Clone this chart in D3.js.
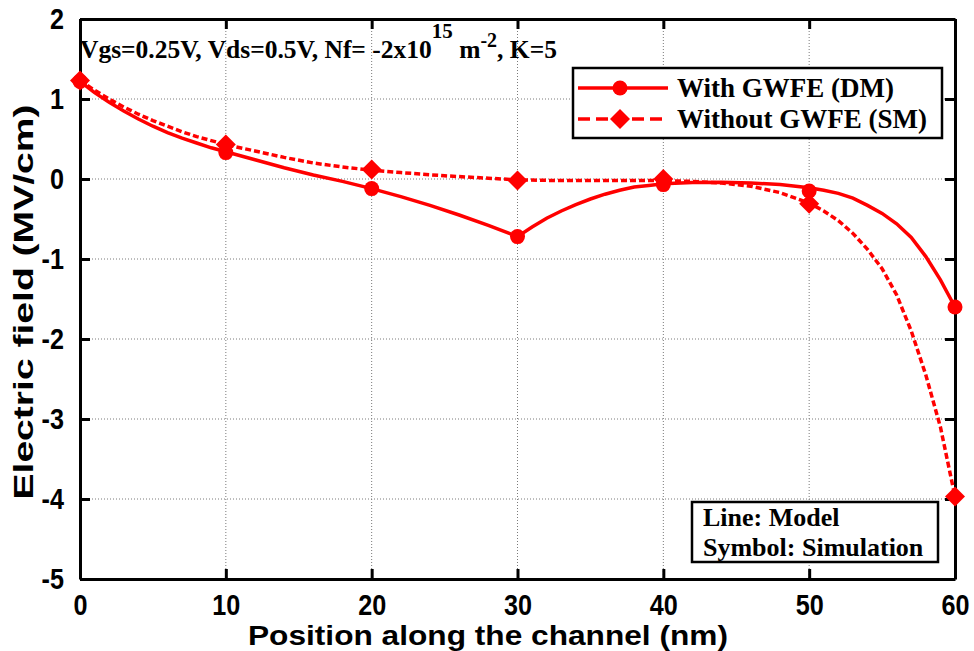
<!DOCTYPE html>
<html>
<head>
<meta charset="utf-8">
<script src="https://cdn.jsdelivr.net/npm/d3@7"></script>
<style>
  html, body { margin: 0; padding: 0; background: #fff; }
  svg { display: block; }
  .axis-title { font-family: "Liberation Sans", Arial, sans-serif; font-weight: bold; font-size: 27px; fill: #000; }
  .serif { font-family: "Liberation Serif", "Times New Roman", serif; font-weight: bold; fill: #000; }
</style>
</head>
<body>
<svg id="chart" width="974" height="651"></svg>
<script>
// Tick values
const xTicks = [0, 10, 20, 30, 40, 50, 60];
const yTicks = [2, 1, 0, -1, -2, -3, -4, -5];

// Simulation points (symbols)
const simX = [0, 10, 20, 30, 40, 50, 60];
const simDM = [1.22, 0.33, -0.12, -0.72, -0.07, -0.15, -1.60];
const simSM = [1.23, 0.43, 0.12, -0.02, 0.00, -0.31, -3.97];

// Model curves (lines)
const modelDMx = [0, 1, 2, 3, 4, 5, 6, 7, 8, 9, 10, 12, 14, 16, 18, 20, 22, 24, 26, 28, 30,
                  31, 32, 33, 34, 35, 36, 37, 38, 39, 40, 42, 44, 46, 48, 50,
                  51, 52, 53, 54, 55, 56, 57, 58, 59, 60];
const modelDMy = [1.22, 1.08, 0.96, 0.85, 0.75, 0.66, 0.58, 0.51, 0.45, 0.39, 0.34, 0.24, 0.14, 0.05, -0.03, -0.12, -0.22, -0.33, -0.45, -0.58, -0.72,
                  -0.60, -0.49, -0.40, -0.32, -0.25, -0.19, -0.14, -0.10, -0.08, -0.06, -0.045, -0.04, -0.05, -0.07, -0.11,
                  -0.14, -0.18, -0.24, -0.33, -0.43, -0.56, -0.73, -0.97, -1.26, -1.60];
const modelSMx = [0, 1, 2, 3, 4, 5, 6, 7, 8, 9, 10, 12, 14, 16, 18, 20, 22, 25, 28, 30, 33, 36, 40,
                  42, 44, 46, 48, 50, 51, 52, 53, 54, 55, 56, 57, 58, 59, 60];
const modelSMy = [1.23, 1.11, 1.00, 0.90, 0.81, 0.73, 0.66, 0.59, 0.53, 0.48, 0.43, 0.35, 0.27, 0.20, 0.15, 0.11, 0.08, 0.04, 0.01, -0.01, -0.02, -0.02, -0.02,
                  -0.03, -0.05, -0.09, -0.17, -0.30, -0.40, -0.52, -0.68, -0.88, -1.12, -1.45, -1.90, -2.45, -3.10, -3.97];

const legendLabels = ["With GWFE (DM)", "Without GWFE (SM)"];
const noteLabels = ["Line: Model", "Symbol: Simulation"];

const red = "#ff0000";
const svg = d3.select("#chart");

const x = d3.scaleLinear().domain([0, 60]).range([80, 955]);
const y = d3.scaleLinear().domain([-5, 2]).range([579, 19]);
const fmt = d => String(d);
const squeeze = 0.84; // horizontal condensing of tick digits

// Dotted grid
const grid = svg.append("g");
grid.selectAll("line.gx").data(xTicks.slice(1, -1)).join("line")
  .attr("x1", d => x(d)).attr("x2", d => x(d)).attr("y1", y(2)).attr("y2", y(-5))
  .attr("stroke", "#7a7a7a").attr("stroke-width", 1).attr("stroke-dasharray", "1,2");
grid.selectAll("line.gy").data(yTicks.slice(1, -1)).join("line")
  .attr("y1", d => y(d)).attr("y2", d => y(d)).attr("x1", x(0)).attr("x2", x(60))
  .attr("stroke", "#7a7a7a").attr("stroke-width", 1).attr("stroke-dasharray", "1,2");

// Axes with inward ticks on all four sides
const axisStyle = g => {
  g.attr("font-family", "Liberation Sans, Arial, sans-serif").attr("font-size", 30).attr("font-weight", "bold");
  g.select(".domain").attr("stroke", "#000").attr("stroke-width", 3);
  g.selectAll(".tick line").attr("stroke", "#000").attr("stroke-width", 3);
  g.selectAll(".tick text").attr("fill", "#000");
};
svg.append("g").attr("transform", `translate(0,${y(-5)})`)
  .call(d3.axisBottom(x).tickValues(xTicks).tickFormat(fmt).tickSize(-10).tickSizeOuter(0))
  .call(axisStyle)
  .call(g => g.selectAll(".tick text")
    .attr("dy", "0.71em").attr("y", 15).attr("transform", `scale(${squeeze},1)`));
svg.append("g").attr("transform", `translate(0,${y(2)})`)
  .call(d3.axisTop(x).tickValues(xTicks).tickSize(-10).tickSizeOuter(0).tickFormat(""))
  .call(axisStyle);
svg.append("g").attr("transform", `translate(${x(0)},0)`)
  .call(d3.axisLeft(y).tickValues(yTicks).tickFormat(fmt).tickSize(-10).tickSizeOuter(0))
  .call(axisStyle)
  .call(g => g.selectAll(".tick text")
    .attr("x", -16 / squeeze).attr("transform", `scale(${squeeze},1)`));
svg.append("g").attr("transform", `translate(${x(60)},0)`)
  .call(d3.axisRight(y).tickValues(yTicks).tickSize(-10).tickSizeOuter(0).tickFormat(""))
  .call(axisStyle);

// Axis titles
svg.append("text").attr("class", "axis-title")
  .attr("x", 488).attr("y", 645).attr("text-anchor", "middle")
  .attr("textLength", 480).attr("lengthAdjust", "spacingAndGlyphs")
  .text("Position along the channel (nm)");
svg.append("text").attr("class", "axis-title")
  .attr("transform", "translate(33,302) rotate(-90)").attr("text-anchor", "middle")
  .attr("textLength", 395).attr("lengthAdjust", "spacingAndGlyphs")
  .text("Electric field (MV/cm)");

// Condition annotation
const cond = svg.append("text").attr("class", "serif").attr("x", 80).attr("y", 58).attr("font-size", 25.5);
cond.append("tspan").text("Vgs=0.25V, Vds=0.5V, Nf= -2x10");
cond.append("tspan").attr("dy", -20).attr("font-size", 21).text("15");
cond.append("tspan").attr("dy", 20).text(" m");
cond.append("tspan").attr("dy", -11).attr("font-size", 20).text("-2");
cond.append("tspan").attr("dy", 11).text(", K=5");

// Model lines
const line = d3.line().x(d => x(d[0])).y(d => y(d[1])).curve(d3.curveLinear);
const dmPts = modelDMx.map((v, i) => [v, modelDMy[i]]);
const smPts = modelSMx.map((v, i) => [v, modelSMy[i]]);
svg.append("path").datum(smPts).attr("d", line)
  .attr("fill", "none").attr("stroke", red).attr("stroke-width", 3.5).attr("stroke-dasharray", "6,3");
svg.append("path").datum(dmPts).attr("d", line)
  .attr("fill", "none").attr("stroke", red).attr("stroke-width", 3.5);

// Simulation symbols
const diamond = (cx, cy, r) => `M${cx},${cy - r}L${cx + r},${cy}L${cx},${cy + r}L${cx - r},${cy}Z`;
svg.append("g").selectAll("path").data(simX).join("path")
  .attr("d", (d, i) => diamond(x(d), y(simSM[i]), 10)).attr("fill", red);
svg.append("g").selectAll("circle").data(simX).join("circle")
  .attr("cx", d => x(d)).attr("cy", (d, i) => y(simDM[i])).attr("r", 7.5).attr("fill", red);

// Series legend
const leg = svg.append("g");
leg.append("rect").attr("x", 573).attr("y", 68).attr("width", 369).attr("height", 70)
  .attr("fill", "#fff").attr("stroke", "#000").attr("stroke-width", 2.5);
const rowsY = [88, 119];
leg.append("line").attr("x1", 578).attr("x2", 668).attr("y1", rowsY[0]).attr("y2", rowsY[0])
  .attr("stroke", red).attr("stroke-width", 3.5);
leg.append("circle").attr("cx", 620).attr("cy", rowsY[0]).attr("r", 7.5).attr("fill", red);
leg.append("line").attr("x1", 578).attr("x2", 668).attr("y1", rowsY[1]).attr("y2", rowsY[1])
  .attr("stroke", red).attr("stroke-width", 3.5).attr("stroke-dasharray", "12,6");
leg.append("path").attr("d", diamond(620, rowsY[1], 10)).attr("fill", red);
leg.selectAll("text").data(legendLabels).join("text").attr("class", "serif")
  .attr("x", 677).attr("y", (d, i) => rowsY[i] + 9).attr("font-size", 27).text(d => d);

// Line/symbol note
const note = svg.append("g");
note.append("rect").attr("x", 692).attr("y", 502).attr("width", 246).attr("height", 60)
  .attr("fill", "#fff").attr("stroke", "#000").attr("stroke-width", 2.5);
note.selectAll("text").data(noteLabels).join("text").attr("class", "serif")
  .attr("x", 703).attr("y", (d, i) => 526 + i * 30).attr("font-size", 26).text(d => d);
</script>
</body>
</html>
